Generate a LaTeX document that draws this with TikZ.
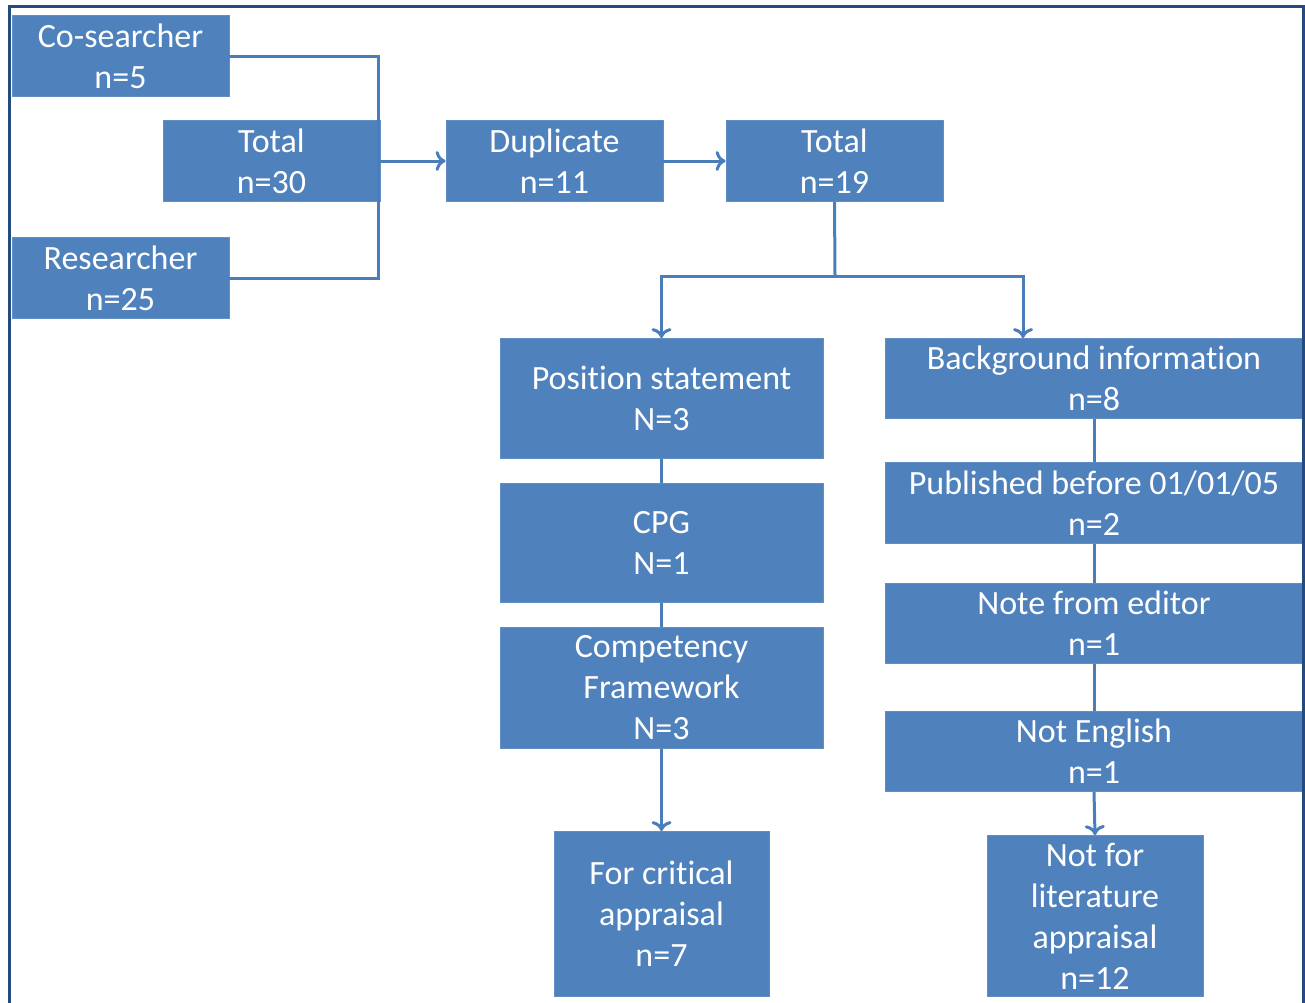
\documentclass[tikz,border=0pt]{standalone}
\usepackage{fontspec}
\setmainfont{Carlito}[Ligatures=NoCommon]
\usetikzlibrary{arrows.meta}
\definecolor{boxblue}{HTML}{4F81BD}
\definecolor{linkblue}{HTML}{4A7EBB}
\definecolor{framenavy}{RGB}{35,75,128}
\begin{document}
\begin{tikzpicture}[x=1pt,y=-1pt,
  box/.style={rectangle, fill=boxblue, draw=boxblue!90!white, line width=0.8pt,
    text=white, align=center, inner sep=0pt,
    font=\fontsize{34}{41}\selectfont},
  link/.style={draw=linkblue, line width=3pt},
  arrowlink/.style={link, -{To[length=10pt,width=20pt,line width=3pt]}}]
\useasboundingbox (0,0) rectangle (1305,1002);

% source boxes and first totals
\node[box, minimum width=217pt, minimum height=81pt] (cos) at (120.5,56) {Co-searcher\\n=5};
\node[box, minimum width=217pt, minimum height=81pt] (tot30) at (271.5,161) {Total\\n=30};
\node[box, minimum width=217pt, minimum height=81pt] (res) at (120.5,278) {Researcher\\n=25};
\node[box, minimum width=217pt, minimum height=81pt] (dup) at (554.5,161) {Duplicate\\n=11};
\node[box, minimum width=217pt, minimum height=81pt] (tot19) at (834.5,161) {Total\\n=19};

% left branch
\node[box, minimum width=323pt, minimum height=120pt] (pos) at (661.5,398.5) {Position statement\\N=3};
\node[box, minimum width=323pt, minimum height=119pt] (cpg) at (661.5,543) {CPG\\N=1};
\node[box, minimum width=323pt, minimum height=121pt] (comp) at (661.5,688) {Competency\\Framework\\N=3};
\node[box, minimum width=215pt, minimum height=165pt] (crit) at (661.5,914) {For critical\\appraisal\\n=7};

% right branch
\node[box, minimum width=418pt, minimum height=80pt] (bg) at (1094,378.5) {Background information\\n=8};
\node[box, minimum width=418pt, minimum height=81pt] (pub) at (1094,503) {Published before 01/01/05\\n=2};
\node[box, minimum width=418pt, minimum height=80pt] (ed) at (1094,623.5) {Note from editor\\n=1};
\node[box, minimum width=418pt, minimum height=80pt] (ne) at (1094,751.5) {Not English\\n=1};
\node[box, minimum width=216pt, minimum height=161pt] (nlit) at (1095,916) {Not for\\literature\\appraisal\\n=12};

% junction points
\coordinate (merge) at (378,160);
\coordinate (split) at (835,276);
\coordinate (bgx) at (1023,0);

% connectors
\draw[link] (cos.east) -| (merge) |- (res.east);
\draw[arrowlink] (tot30.east) -- (dup.west);
\draw[arrowlink] (dup.east) -- (tot19.west);
\draw[link] (tot19.south) -- (split);
\draw[arrowlink] (split) -| (pos.north);
\draw[arrowlink] (split) -| (bgx |- bg.north);
\draw[link] (pos.south) -- (cpg.north);
\draw[link] (cpg.south) -- (comp.north);
\draw[arrowlink] (comp.south) -- (crit.north);
\draw[link] (bg.south) -- (pub.north);
\draw[link] (pub.south) -- (ed.north);
\draw[link] (ed.south) -- (ne.north);
\draw[arrowlink] (ne.south) -- (nlit.north);

% outer frame
\draw[framenavy, line width=3pt] (9.5,1020) -- (9.5,6.5) -- (1303,6.5) -- (1303,1020);
\end{tikzpicture}
\end{document}
